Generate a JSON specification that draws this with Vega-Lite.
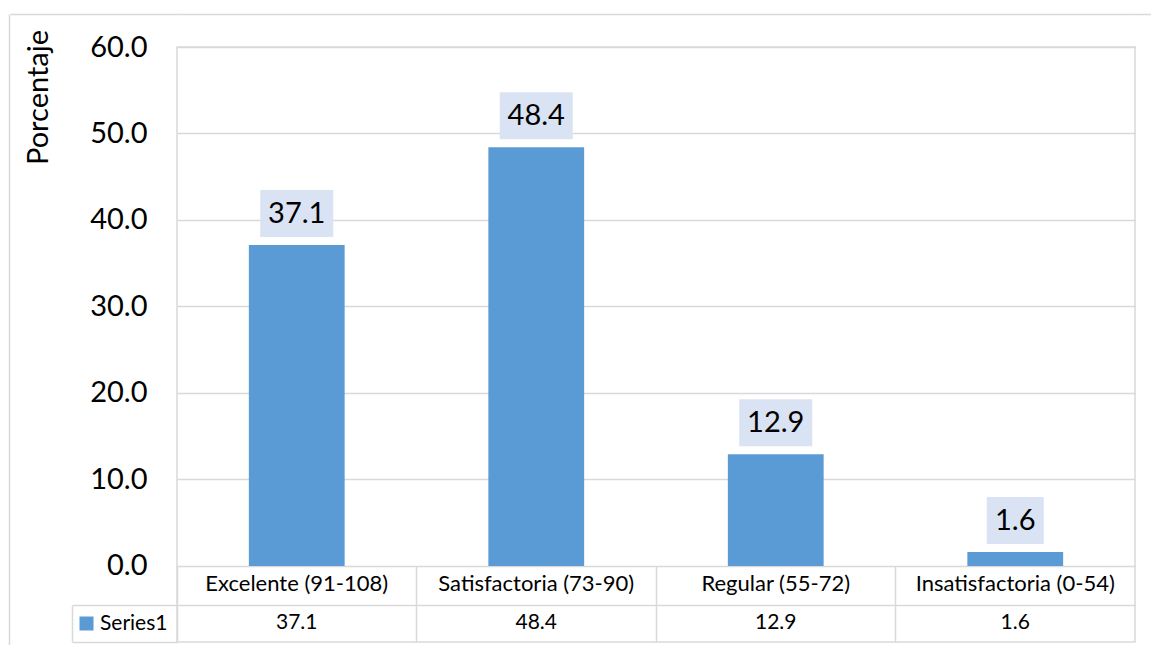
{
  "$schema": "https://vega.github.io/schema/vega-lite/v6.json",
  "autosize": {"type": "none"},
  "padding": {"left": 177, "top": 47, "right": 16, "bottom": 3},
  "width": 958,
  "height": 595,
  "background": "white",
  "config": {
    "font": "Lato",
    "view": {"stroke": "#d9d9d9", "strokeWidth": 1.5},
    "axis": {"gridColor": "#d9d9d9", "gridWidth": 1.5, "labelColor": "#000", "titleColor": "#000", "titleFontWeight": "normal", "tickColor": "#d9d9d9", "tickWidth": 1.5}
  },
  "data": {
    "values": [
      {"categoria": "Excelente (91-108)", "porcentaje": 37.1},
      {"categoria": "Satisfactoria (73-90)", "porcentaje": 48.4},
      {"categoria": "Regular (55-72)", "porcentaje": 12.9},
      {"categoria": "Insatisfactoria (0-54)", "porcentaje": 1.6}
    ]
  },
  "resolve": {"axis": {"x": "independent", "y": "independent"}},
  "layer": [
    {
      "mark": {"type": "bar", "width": {"band": 0.4}, "color": "#5b9bd5"},
      "encoding": {
        "x": {
          "field": "categoria", "type": "nominal", "sort": null,
          "scale": {"paddingInner": 0, "paddingOuter": 0},
          "axis": {"title": null, "orient": "bottom", "offset": -76, "ticks": false, "domain": false, "labelAngle": 0, "labelFontSize": 22, "labelPadding": 7, "labelLimit": 0}
        },
        "y": {
          "field": "porcentaje", "type": "quantitative",
          "scale": {"domain": [-8.8, 60], "nice": false, "zero": false},
          "axis": {"orient": "left", "values": [-4.5, 0, 10, 20, 30, 40, 50, 60], "labelExpr": "datum.value < 0 ? '' : format(datum.value, '.1f')", "ticks": false, "tickSize": 0, "domain": false, "grid": true, "labelFontSize": 29, "labelPadding": 30, "title": "Porcentaje", "titleFontSize": 29, "titleAngle": -90, "titleX": -139, "titleY": 50, "titleAlign": "center", "titleBaseline": "middle"}
        },
        "y2": {"datum": 0},
        "color": {
          "datum": "Series1", "type": "nominal",
          "scale": {"range": ["#5b9bd5"]},
          "legend": {"title": null, "orient": "none", "legendX": -109, "legendY": 558, "symbolType": "square", "symbolSize": 196, "symbolStrokeWidth": 0, "labelFontSize": 21, "labelColor": "#000", "labelOffset": 3, "padding": 8}
        }
      }
    },
    {
      "transform": [{"filter": "datum.porcentaje >= 10"}],
      "mark": {"type": "tick", "color": "#dae3f3", "opacity": 1, "thickness": 47, "size": 73, "yOffset": -31.5},
      "encoding": {
        "x": {
          "field": "categoria", "type": "nominal", "sort": null,
          "axis": {"title": null, "orient": "bottom", "offset": -76, "bandPosition": 0, "labels": false, "ticks": true, "tickSize": 76, "domain": false, "grid": false}
        },
        "y": {
          "field": "porcentaje", "type": "quantitative",
          "axis": {"orient": "left", "values": [-4.5, -8.8], "labels": false, "ticks": true, "tickSize": 105, "domain": false, "grid": false, "title": null}
        }
      }
    },
    {
      "transform": [{"filter": "datum.porcentaje < 10"}],
      "mark": {"type": "tick", "color": "#dae3f3", "opacity": 1, "thickness": 47, "size": 57, "yOffset": -31.5},
      "encoding": {
        "x": {
          "field": "categoria", "type": "nominal", "sort": null,
          "axis": {"title": null, "orient": "bottom", "values": ["Excelente (91-108)"], "bandPosition": -0.4384, "offset": -37, "labels": false, "ticks": true, "tickSize": 37, "domain": false, "grid": false}
        },
        "y": {
          "field": "porcentaje", "type": "quantitative",
          "axis": {"orient": "left", "values": [60], "tickOffset": -33, "labels": false, "ticks": true, "tickSize": 167, "domain": false, "grid": true, "title": null}
        }
      }
    },
    {
      "mark": {"type": "text", "fontSize": 29, "color": "#000", "baseline": "middle", "yOffset": -31},
      "encoding": {
        "x": {
          "field": "categoria", "type": "nominal", "sort": null,
          "axis": {"title": null, "orient": "bottom", "values": ["Excelente (91-108)"], "bandPosition": -0.6973, "offset": -628, "labels": false, "ticks": true, "tickSize": 631, "domain": false, "grid": false}
        },
        "y": {
          "field": "porcentaje", "type": "quantitative",
          "axis": {"orient": "right", "values": [60], "tickOffset": -33, "labels": false, "ticks": true, "tickSize": 16, "domain": false, "grid": false, "title": null}
        },
        "text": {"field": "porcentaje", "type": "quantitative", "format": ".1f"}
      }
    },
    {
      "mark": {"type": "text", "fontSize": 21, "color": "#000", "baseline": "middle"},
      "encoding": {
        "x": {"field": "categoria", "type": "nominal", "sort": null, "axis": null},
        "y": {"datum": -6.65, "type": "quantitative", "axis": null},
        "text": {"field": "porcentaje", "type": "quantitative", "format": ".1f"}
      }
    }
  ]
}
